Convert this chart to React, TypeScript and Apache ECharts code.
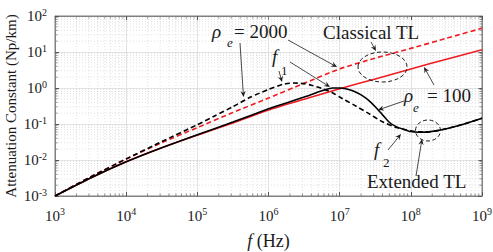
import React, { useEffect, useRef } from 'react';
import * as echarts from 'echarts';

const FONT = 'Liberation Serif, Times New Roman, serif';

// ---- data ----
// Classical TL (red), sampled every half decade
const fClassical = [1e3, 3.16e3, 1e4, 3.16e4, 1e5, 3.16e5, 1e6, 3.16e6, 1e7, 3.16e7, 1e8, 3.16e8, 1e9];
const classicalRho100 = [0.001, 0.00316, 0.0089, 0.0219, 0.049, 0.107, 0.245, 0.49, 0.955, 1.78, 3.39, 6.31, 11.5];
const classicalRho2000 = [0.001, 0.00339, 0.0107, 0.0302, 0.0794, 0.209, 0.525, 1.35, 3.39, 6.76, 12.6, 24.0, 45.7];

// Extended TL (black), rho_e = 100 (solid)
const fExtended100 = [1e3, 3.16e3, 1e4, 3.16e4, 1e5, 3.16e5, 1e6, 1.78e6, 3.16e6, 5.62e6, 7.94e6, 1e7, 1.26e7, 1.58e7, 2.0e7, 2.51e7, 3.16e7, 3.98e7, 5.01e7, 6.31e7, 7.94e7, 1e8, 1.26e8, 1.78e8, 3.16e8, 5.62e8, 1e9];
const extendedRho100 = [0.001, 0.00316, 0.0089, 0.0219, 0.0501, 0.113, 0.265, 0.385, 0.56, 0.84, 1.0, 1.0, 0.933, 0.813, 0.646, 0.468, 0.302, 0.182, 0.11, 0.0832, 0.0708, 0.0617, 0.0589, 0.0603, 0.0741, 0.1, 0.145];

// Extended TL (black), rho_e = 2000 (dashed)
const fExtended2000 = [1e3, 3.16e3, 1e4, 3.16e4, 1e5, 1.78e5, 3.16e5, 5.62e5, 1e6, 1.58e6, 2.24e6, 3.16e6, 3.98e6, 5.62e6, 7.94e6, 1e7, 1.58e7, 2.51e7, 3.98e7, 6.31e7, 1e8, 1.26e8, 1.78e8, 3.16e8, 5.62e8, 1e9];
const extendedRho2000 = [0.001, 0.00339, 0.0107, 0.0324, 0.0955, 0.17, 0.302, 0.562, 0.912, 1.26, 1.38, 1.32, 1.2, 0.977, 0.741, 0.562, 0.339, 0.2, 0.115, 0.0794, 0.0646, 0.0603, 0.0603, 0.0741, 0.1, 0.145];

const xMin = 1e3;
const xMax = 1e9;
const yMin = 1e-3;
const yMax = 1e2;

const yTitle = 'Attenuation Constant (Np/km)';

const RED = '#ee1d23';
const INK = '#1a1a1a';

function pairs(xs: number[], ys: number[]) {
  return xs.map((x, i) => [x, ys[i]]);
}

function minorValues(lo: number, hi: number) {
  const out: number[] = [];
  for (let d = Math.round(Math.log10(lo)); d < Math.round(Math.log10(hi)); d++) {
    for (let k = 2; k <= 9; k++) out.push(k * Math.pow(10, d));
  }
  return out;
}

function arrow(x1: number, y1: number, x2: number, y2: number) {
  const dx = x2 - x1, dy = y2 - y1;
  const L = Math.hypot(dx, dy);
  const ux = dx / L, uy = dy / L;
  const px = -uy, py = ux;
  const hl = 6, hw = 2.6;
  const bx = x2 - ux * hl, by = y2 - uy * hl;
  const nx = x2 - ux * hl * 0.65, ny = y2 - uy * hl * 0.65;
  return [
    { type: 'line', shape: { x1, y1, x2: nx, y2: ny }, style: { stroke: INK, lineWidth: 0.8 }, z: 100 },
    {
      type: 'polygon',
      shape: { points: [[x2, y2], [bx + px * hw, by + py * hw], [nx, ny], [bx - px * hw, by - py * hw]] },
      style: { fill: INK },
      z: 100,
    },
  ];
}

function txt(x: number, baseline: number, text: string, size: number, italic = false) {
  return {
    type: 'text',
    x,
    y: baseline - 0.34 * size,
    z: 100,
    style: {
      text,
      fontFamily: FONT,
      fontSize: size,
      fontStyle: italic ? 'italic' : 'normal',
      fill: INK,
      align: 'left',
      verticalAlign: 'middle',
    },
  };
}

const tickRich = {
  b: { fontFamily: FONT, fontSize: 15, lineHeight: 15, color: INK, verticalAlign: 'bottom' },
  s: { fontFamily: FONT, fontSize: 10, lineHeight: 10, color: INK, padding: [0, 0, 8, 0] },
};
const powLabel = (v: number) => `{b|10}{s|${Math.round(Math.log10(v))}}`;

export default function App() {
  const ref = useRef<HTMLDivElement>(null);
  useEffect(() => {
    if (!ref.current) return;
    const chart = echarts.init(ref.current, undefined, { renderer: 'svg' });
    const minorX = minorValues(xMin, xMax);
    const minorY = minorValues(yMin, yMax);
    const gridColor = '#dcdcdc';
    const minorColor = '#cfcfcf';
    const frame = '#808080';

    const option: any = {
      animation: false,
      backgroundColor: '#fff',
      grid: {
        left: 55, right: 11, top: 16, bottom: 56,
        outerBoundsMode: 'none', containLabel: false,
        show: true, borderColor: frame, borderWidth: 1,
      },
      xAxis: [
        {
          type: 'log', logBase: 10, min: xMin, max: xMax, splitNumber: 6,
          axisLine: { lineStyle: { color: frame } },
          axisTick: { inside: true, length: 4, lineStyle: { color: '#555' } },
          axisLabel: { margin: 12, formatter: powLabel, rich: tickRich },
          splitLine: { show: true, lineStyle: { color: gridColor, width: 0.8 } },
          name: '{i|f} (Hz)',
          nameLocation: 'middle',
          nameGap: 36,
          nameTextStyle: {
            fontFamily: FONT, fontSize: 18, lineHeight: 18, color: INK,
            rich: { i: { fontFamily: FONT, fontSize: 18, lineHeight: 18, fontStyle: 'italic', color: INK } },
          },
        },
        {
          type: 'log', logBase: 10, min: xMin, max: xMax, splitNumber: 6, position: 'top',
          axisLine: { lineStyle: { color: frame } },
          axisTick: { inside: true, length: 4, lineStyle: { color: '#555' } },
          axisLabel: { show: false },
          splitLine: { show: false },
        },
      ],
      yAxis: [
        {
          type: 'log', logBase: 10, min: yMin, max: yMax, splitNumber: 5,
          axisLine: { show: true, lineStyle: { color: frame } },
          axisTick: { show: true, inside: true, length: 4, lineStyle: { color: '#555' } },
          axisLabel: { margin: 8, formatter: powLabel, rich: tickRich },
          splitLine: { show: true, lineStyle: { color: gridColor, width: 0.8 } },
        },
        {
          type: 'log', logBase: 10, min: yMin, max: yMax, splitNumber: 5, position: 'right',
          axisLine: { show: true, lineStyle: { color: frame } },
          axisTick: { show: true, inside: true, length: 4, lineStyle: { color: '#555' } },
          axisLabel: { show: false },
          splitLine: { show: false },
        },
      ],
      series: [
        {
          type: 'custom', silent: true, z: 1, xAxisIndex: 0, yAxisIndex: 0,
          data: minorX.map((v) => [v, 1]),
          renderItem: (params: any, api: any) => {
            const cs = params.coordSys;
            const x = api.coord([api.value(0), 1])[0];
            return {
              type: 'group',
              children: [
                { type: 'line', shape: { x1: x, y1: cs.y, x2: x, y2: cs.y + cs.height }, style: { stroke: minorColor, lineWidth: 0.6, lineDash: [1, 2] } },
                { type: 'line', shape: { x1: x, y1: cs.y + cs.height, x2: x, y2: cs.y + cs.height - 2.5 }, style: { stroke: '#666', lineWidth: 0.7 } },
                { type: 'line', shape: { x1: x, y1: cs.y, x2: x, y2: cs.y + 2.5 }, style: { stroke: '#666', lineWidth: 0.7 } },
              ],
            };
          },
        },
        {
          type: 'custom', silent: true, z: 1, xAxisIndex: 0, yAxisIndex: 0,
          data: minorY.map((v) => [xMin, v]),
          renderItem: (params: any, api: any) => {
            const cs = params.coordSys;
            const y = api.coord([xMin, api.value(1)])[1];
            return {
              type: 'group',
              children: [
                { type: 'line', shape: { x1: cs.x, y1: y, x2: cs.x + cs.width, y2: y }, style: { stroke: minorColor, lineWidth: 0.6, lineDash: [1, 2] } },
                { type: 'line', shape: { x1: cs.x, y1: y, x2: cs.x + 2.5, y2: y }, style: { stroke: '#666', lineWidth: 0.7 } },
                { type: 'line', shape: { x1: cs.x + cs.width, y1: y, x2: cs.x + cs.width - 2.5, y2: y }, style: { stroke: '#666', lineWidth: 0.7 } },
              ],
            };
          },
        },
        {
          name: 'Classical TL, rho_e = 2000', type: 'line', z: 3, showSymbol: false, smooth: 0.2,
          data: pairs(fClassical, classicalRho2000),
          lineStyle: { color: RED, width: 1.6, type: [5, 3] },
        },
        {
          name: 'Classical TL, rho_e = 100', type: 'line', z: 3, showSymbol: false, smooth: 0.2,
          data: pairs(fClassical, classicalRho100),
          lineStyle: { color: RED, width: 1.6 },
        },
        {
          name: 'Extended TL, rho_e = 2000', type: 'line', z: 4, showSymbol: false, smooth: 0.2,
          data: pairs(fExtended2000, extendedRho2000),
          lineStyle: { color: '#000', width: 1.6, type: [5, 3] },
        },
        {
          name: 'Extended TL, rho_e = 100', type: 'line', z: 4, showSymbol: false, smooth: 0.2,
          data: pairs(fExtended100, extendedRho100),
          lineStyle: { color: '#000', width: 1.6 },
        },
      ],
      graphic: [
        // y-axis title
        {
          type: 'text', x: 10.5, y: 106, rotation: Math.PI / 2, z: 100,
          style: {
            text: yTitle, fontFamily: FONT, fontSize: 15, fill: INK,
            align: 'center', verticalAlign: 'middle',
          },
        },
        // rho_e = 2000
        txt(212, 38, 'ρ', 19, true),
        txt(227, 47, 'e', 13, true),
        txt(234, 38, '= 2000', 19),
        ...arrow(240, 43, 243.5, 97),
        ...arrow(288, 40, 337, 67),
        // Classical TL
        txt(323, 39, 'Classical TL', 19),
        ...arrow(371, 42, 376, 51),
        { type: 'ellipse', z: 100, shape: { cx: 382.5, cy: 67, rx: 24.5, ry: 15 }, style: { fill: 'none', stroke: INK, lineWidth: 1, lineDash: [4, 2.5] } },
        // f1
        txt(272, 63, 'f', 19, true),
        txt(281, 75, '1', 13),
        ...arrow(279, 71, 282, 82),
        ...arrow(290, 62, 330, 87),
        // rho_e = 100
        txt(404, 102, 'ρ', 19, true),
        txt(413, 112, 'e', 13, true),
        txt(427, 102, '= 100', 19),
        ...arrow(434, 85, 424, 67),
        ...arrow(404, 101, 378, 110),
        // f2
        txt(374, 156, 'f', 19, true),
        txt(383, 167, '2', 13),
        ...arrow(388, 150, 401, 134),
        // Extended TL
        txt(367, 188, 'Extended TL', 19),
        ...arrow(416, 176, 422, 139),
        { type: 'ellipse', z: 100, shape: { cx: 428, cy: 130.5, rx: 12.5, ry: 10.5 }, style: { fill: 'none', stroke: INK, lineWidth: 1, lineDash: [4, 2.5] } },
      ],
    };
    chart.setOption(option);
    return () => chart.dispose();
  }, []);
  return (
    <div
      ref={ref}
      style={{ position: 'fixed', left: 0, top: 0, width: 493, height: 252, background: '#fff' }}
    />
  );
}
